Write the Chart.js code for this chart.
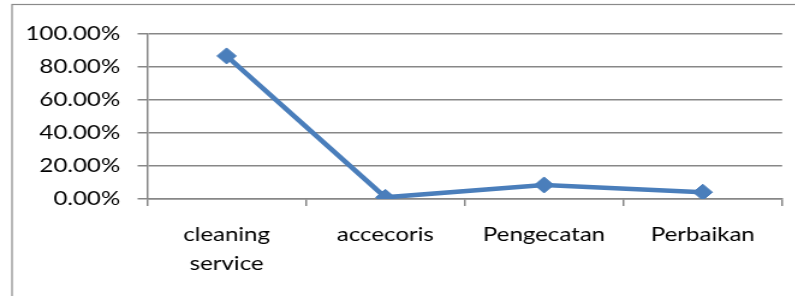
<!DOCTYPE html>
<html>
<head>
<meta charset="utf-8">
<script src="https://cdn.jsdelivr.net/npm/chart.js@4/dist/chart.umd.min.js"></script>
<style>
  html, body { margin: 0; padding: 0; background: #fff; overflow: hidden; }
  #wrap { position: absolute; left: 0; top: 0; width: 662.5px; height: 296px; transform: scaleX(1.2); transform-origin: 0 0; }
</style>
</head>
<body>
<div id="wrap"><canvas id="c"></canvas></div>
<script>
const categories = [["cleaning", "service"], "accecoris", "Pengecatan", "Perbaikan"];
const values = [0.867, 0.01, 0.085, 0.041];
const yTicks = [0, 0.2, 0.4, 0.6, 0.8, 1.0];

const GRID = '#878787';
const BLUE = '#4A7EBB';

const frame = {
  id: 'frame',
  beforeDraw(chart) {
    const ctx = chart.ctx;
    ctx.save();
    ctx.fillStyle = '#fff';
    ctx.fillRect(0, 0, chart.width, chart.height);
    ctx.strokeStyle = '#8a8a8a';
    ctx.lineWidth = 1.2;
    ctx.strokeRect(10, 4.5, chart.width + 20, chart.height + 20);
    ctx.restore();
  }
};

new Chart(document.getElementById('c'), {
  type: 'line',
  data: {
    labels: categories,
    datasets: [{
      data: values,
      borderColor: BLUE,
      backgroundColor: BLUE,
      borderWidth: 4.5,
      pointStyle: 'rectRot',
      pointRadius: 8,
      pointHoverRadius: 8,
      pointBorderWidth: 1,
      pointBorderColor: BLUE,
      pointBackgroundColor: BLUE,
      tension: 0,
      fill: false
    }]
  },
  options: {
    responsive: true,
    maintainAspectRatio: false,
    animation: false,
    events: [],
    layout: { padding: { left: 0, right: 11.7, top: 34, bottom: 0 } },
    plugins: { legend: { display: false }, tooltip: { enabled: false } },
    scales: {
      x: {
        type: 'category',
        offset: true,
        grid: { offset: true, drawOnChartArea: false, drawTicks: true, tickLength: 7, color: GRID, lineWidth: 1.5 },
        border: { display: true, color: GRID, width: 1.5 },
        ticks: {
          color: '#000',
          font: { family: 'Lato', size: 20, lineHeight: 1.45 },
          padding: 14,
          maxRotation: 0,
          autoSkip: false
        },
        afterFit(scale) { scale.height = 97; }
      },
      y: {
        min: 0,
        max: 1,
        afterBuildTicks(scale) { scale.ticks = yTicks.map(v => ({ value: v })); },
        grid: { drawTicks: true, tickLength: 8, color: GRID, lineWidth: 1.5 },
        border: { display: true, color: GRID, width: 1.5 },
        ticks: {
          color: '#000',
          font: { family: 'Lato', size: 20 },
          padding: 14.5,
          callback: v => (v * 100).toFixed(2) + '%'
        },
        afterFit(scale) { scale.width = 122.5; }
      }
    }
  },
  plugins: [frame]
});
</script>
</body>
</html>
